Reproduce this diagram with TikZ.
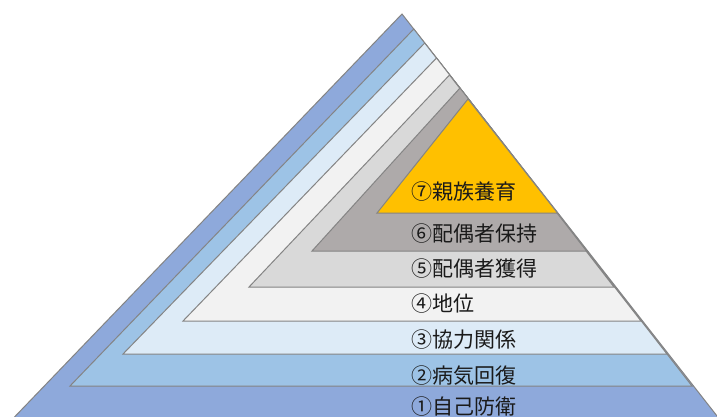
\documentclass[tikz,border=0pt]{standalone}
\usepackage{fontspec}
\newfontfamily\jpfont{Noto Sans CJK JP}
\definecolor{cA}{HTML}{8EA9DB}
\definecolor{cB}{HTML}{9DC3E6}
\definecolor{cC}{HTML}{DDEBF7}
\definecolor{cD}{HTML}{F2F2F2}
\definecolor{cE}{HTML}{D9D9D9}
\definecolor{cF}{HTML}{AEAAAA}
\definecolor{cG}{HTML}{FFC000}
\definecolor{edge}{HTML}{848484}
\definecolor{txt}{HTML}{1A1A1A}
\begin{document}
\begin{tikzpicture}[x=1pt,y=-1pt,
  layer/.style={draw=edge,line width=1pt,line join=miter},
  lbl/.style={anchor=west,inner sep=0pt,font=\jpfont\fontsize{21}{21}\selectfont,text=txt}]
\useasboundingbox (0,0) rectangle (717,416);
\clip (0,0) rectangle (717,416);
\fill[white] (0,0) rectangle (717,416);
\draw[layer,fill=cA] (402,14) -- (728,430) -- (2,430) -- cycle;
\draw[layer,fill=cB] (413.8,29) -- (692,386) -- (70,386) -- cycle;
\draw[layer,fill=cC] (424.7,43) -- (667,354) -- (123,354) -- cycle;
\draw[layer,fill=cD] (436.5,58) -- (641,321) -- (183,321) -- cycle;
\draw[layer,fill=cE] (449.5,75) -- (614,287) -- (249,287) -- cycle;
\draw[layer,fill=cF] (460,88) -- (586.5,251) -- (312,251) -- cycle;
\draw[layer,fill=cG] (468,99) -- (557.5,213) -- (377,213) -- cycle;
\node[lbl] (t7) at (411,192) {⑦親族養育};
\node[lbl] (t6) at (411,234) {⑥配偶者保持};
\node[lbl] (t5) at (411,269) {⑤配偶者獲得};
\node[lbl] (t4) at (411,304) {④地位};
\node[lbl] (t3) at (411,340) {③協力関係};
\node[lbl] (t2) at (411,376) {②病気回復};
\node[lbl] (t1) at (411,407) {①自己防衛};
\end{tikzpicture}
\end{document}
